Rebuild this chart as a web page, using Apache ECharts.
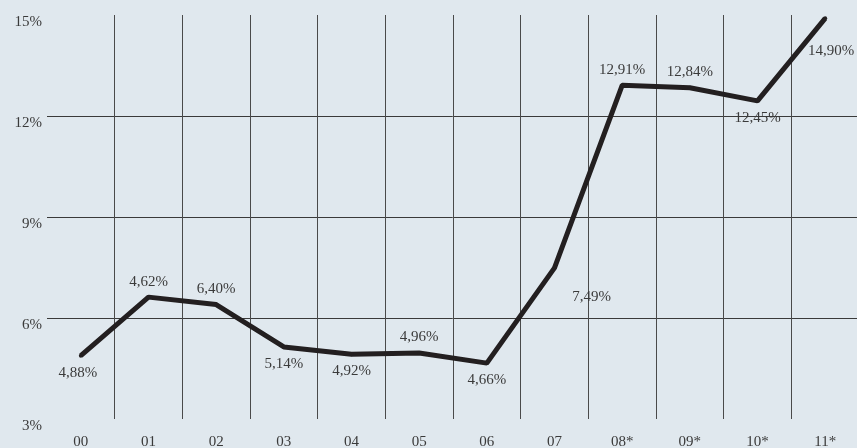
<!DOCTYPE html>
<html lang="pt">
<head>
    <meta charset="UTF-8">
    <title>Taxa</title>
    <script src="https://cdn.jsdelivr.net/npm/echarts@6/dist/echarts.min.js"></script>
    <style>
        body { margin: 0; background: #e0e8ee; }
    </style>
</head>
<body>
<div id="main" style="width: 857px;height:448px;"></div>
<script type="text/javascript">
    // data
    var categories = ['00', '01', '02', '03', '04', '05', '06', '07', '08*', '09*', '10*', '11*'];
    var values = [4.88, 6.62, 6.40, 5.14, 4.92, 4.96, 4.66, 7.49, 12.91, 12.84, 12.45, 14.90];
    // printed labels (the 01 label says 4,62% although the point sits near 6,6%)
    var labelTexts = ['4,88%', '4,62%', '6,40%', '5,14%', '4,92%', '4,96%', '4,66%', '7,49%', '12,91%', '12,84%', '12,45%', '14,90%'];
    var yMin = 3, yMax = 15, yStep = 3;

    var font = '"Liberation Serif", "DejaVu Serif", serif';
    var textColor = '#3a3a3a';

    // where each value label sits
    var labelSide = ['bottom', 'top', 'top', 'bottom', 'bottom', 'top', 'bottom', 'bottom', 'top', 'top', 'bottom', 'bottom'];
    var labelShift = {7: [37, 12], 11: [6, 16], 0: [-3, 0]};

    var seriesData = values.map(function (v, i) {
        var lab = {position: labelSide[i], distance: labelSide[i] == 'top' ? 6 : 7.5};
        if (labelShift[i]) lab.offset = labelShift[i];
        return {value: v, label: lab};
    });

    var myChart = echarts.init(document.getElementById('main'));
    myChart.setOption({
        backgroundColor: '#e0e8ee',
        animation: false,
        grid: {
            left: 47,
            right: -2,
            top: 15,
            bottom: 29,
            outerBoundsMode: 'none'
        },
        xAxis: {
            type: 'category',
            data: categories,
            boundaryGap: true,
            axisLine: {show: false},
            axisTick: {show: false},
            axisLabel: {
                margin: 16,
                color: textColor,
                fontFamily: font,
                fontSize: 15
            },
            splitLine: {
                show: true,
                showMinLine: false,
                lineStyle: {color: '#4a4a4a', width: 1}
            }
        },
        yAxis: {
            type: 'value',
            min: yMin,
            max: yMax,
            interval: yStep,
            axisLine: {show: false},
            axisTick: {show: false},
            axisLabel: {
                formatter: '{value}%',
                margin: 5,
                verticalAlign: 'top',
                color: textColor,
                fontFamily: font,
                fontSize: 15
            },
            splitLine: {
                show: true,
                showMinLine: false,
                showMaxLine: false,
                lineStyle: {color: '#3a3a3a', width: 1}
            }
        },
        series: [{
            type: 'line',
            data: seriesData,
            symbol: 'circle',
            symbolSize: 4,
            itemStyle: {color: '#231f20'},
            lineStyle: {color: '#231f20', width: 5},
            label: {
                show: true,
                color: textColor,
                fontFamily: font,
                fontSize: 15,
                formatter: function (p) {
                    return labelTexts[p.dataIndex];
                }
            }
        }]
    });
</script>
</body>
</html>
